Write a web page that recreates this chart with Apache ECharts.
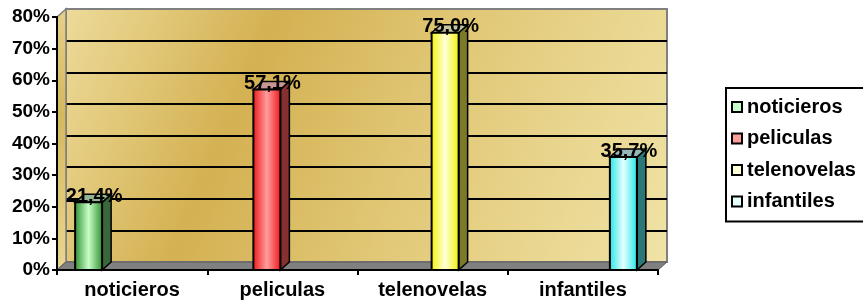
<!DOCTYPE html>
<html>
<head>
<meta charset="utf-8">
<script src="https://cdn.jsdelivr.net/npm/echarts@6/dist/echarts.min.js"></script>
<style>
html, body { margin: 0; padding: 0; background: #fff; }
#chart { width: 863px; height: 306px; }
</style>
</head>
<body>
<div id="chart"></div>
<script>
// data
const categories = ['noticieros', 'peliculas', 'telenovelas', 'infantiles'];
const values = [21.4, 57.1, 75.0, 35.7];
const yMax = 80;
const yStep = 10;

// bar looks: edge / centre of the front face, side face, top face
const frontEdge = ['#2a8a2a', '#ee1414', '#f2f200', '#1ee6e6'];
const frontMid  = ['#c8ffc8', '#ff9d9d', '#ffffd8', '#e6ffff'];
const sideCol   = ['#3a683a', '#863030', '#7a7a28', '#2c7878'];
const topCol    = ['#94b494', '#c89494', '#c4c4a0', '#94b8b8'];

const W = 863, H = 306;
const FL = 57, FR = 658, FT = 17, FB = 270;   // front frame
const DX = 9, DY = 8;                          // 3d depth
const BAR_W = 27, BAR_STEP = 28;
const font = '"Liberation Sans", Arial, sans-serif';

const chart = echarts.init(document.getElementById('chart'));

function fmt(v) {
    return v.toFixed(1).replace('.', ',') + '%';
}

function makeSeries(i) {
    return {
        name: categories[i],
        type: 'custom',
        xAxisIndex: 0,
        yAxisIndex: 0,
        z: 3,
        data: [[i, values[i]]],
        renderItem: function (params, api) {
            const cat = api.value(0);
            const val = api.value(1);
            const top = api.coord([cat, val]);
            const base = api.coord([cat, 0]);
            const band = api.size([1, 0])[0];
            const gap = (band - BAR_STEP * categories.length) / 2;
            const x0 = top[0] - band / 2 + gap + i * BAR_STEP - 1;
            const y0 = top[1];
            const y1 = base[1];
            return {
                type: 'group',
                children: [
                    {
                        type: 'polygon',
                        shape: { points: [[x0 + BAR_W, y0], [x0 + BAR_W + DX, y0 - DY], [x0 + BAR_W + DX, y1 - DY], [x0 + BAR_W, y1]] },
                        style: { fill: sideCol[i], stroke: '#000', lineWidth: 1.5 }
                    },
                    {
                        type: 'polygon',
                        shape: { points: [[x0, y0], [x0 + DX, y0 - DY], [x0 + BAR_W + DX, y0 - DY], [x0 + BAR_W, y0]] },
                        style: { fill: topCol[i], stroke: '#000', lineWidth: 1.5 }
                    },
                    {
                        type: 'rect',
                        shape: { x: x0, y: y0, width: BAR_W, height: y1 - y0 },
                        style: {
                            fill: new echarts.graphic.LinearGradient(0, 0, 1, 0, [
                                { offset: 0, color: frontEdge[i] },
                                { offset: 0.5, color: frontMid[i] },
                                { offset: 1, color: frontEdge[i] }
                            ]),
                            stroke: '#000',
                            lineWidth: 2
                        }
                    },
                    {
                        type: 'text',
                        style: {
                            x: x0 + (BAR_W + DX) / 2 + 1,
                            y: y0 - 6,
                            text: fmt(val),
                            fill: '#000',
                            font: 'bold 20px ' + font,
                            align: 'center',
                            verticalAlign: 'middle'
                        }
                    }
                ]
            };
        }
    };
}

const wallLineColors = ['#808080'];
for (let v = yStep; v < yMax; v += yStep) wallLineColors.push('#000');
wallLineColors.push('#808080');

const option = {
    backgroundColor: '#fff',
    animation: false,
    textStyle: { fontFamily: font },
    grid: [
        { left: FL, right: W - FR, top: FT, bottom: H - FB },
        {
            left: FL + DX, right: W - FR - DX, top: FT - DY, bottom: H - FB + DY,
            show: true,
            borderColor: '#808080',
            borderWidth: 2,
            backgroundColor: new echarts.graphic.LinearGradient(0, 0, 1, 1, [
                { offset: 0, color: '#eddb9a' },
                { offset: 0.3, color: '#d4b152' },
                { offset: 0.6, color: '#e2c979' },
                { offset: 1, color: '#f0e3a6' }
            ])
        }
    ],
    xAxis: [
        {
            type: 'category',
            gridIndex: 0,
            data: categories,
            z: 5,
            axisLine: { lineStyle: { color: '#000', width: 2 } },
            axisTick: { show: true, length: 5, alignWithLabel: false, lineStyle: { color: '#000', width: 2 } },
            axisLabel: { color: '#000', fontWeight: 'bold', fontSize: 20, fontFamily: font, margin: 10 },
            splitLine: { show: false }
        },
        {
            type: 'category',
            gridIndex: 1,
            data: categories,
            show: false
        }
    ],
    yAxis: [
        {
            type: 'value',
            gridIndex: 0,
            min: 0,
            max: yMax,
            interval: yStep,
            z: 5,
            axisLine: { show: true, lineStyle: { color: '#000', width: 2 } },
            axisTick: { show: true, length: 5, lineStyle: { color: '#000', width: 2 } },
            axisLabel: { color: '#000', fontWeight: 'bold', fontSize: 19, fontFamily: font, margin: 7, formatter: '{value}%' },
            splitLine: { show: false }
        },
        {
            type: 'value',
            gridIndex: 1,
            min: 0,
            max: yMax,
            interval: yStep,
            axisLine: { show: false },
            axisTick: { show: false },
            axisLabel: { show: false },
            splitLine: { show: true, lineStyle: { color: wallLineColors, width: 2 } }
        }
    ],
    graphic: [
        {
            type: 'polygon',
            z: 1,
            shape: { points: [[FL, FB], [FL, FT], [FL + DX, FT - DY], [FL + DX, FB - DY]] },
            style: {
                fill: new echarts.graphic.LinearGradient(0, 0, 0, 1, [
                    { offset: 0, color: '#e6d08a' },
                    { offset: 0.4, color: '#d6b85c' },
                    { offset: 1, color: '#e9d690' }
                ]),
                stroke: '#808080',
                lineWidth: 1.5
            }
        },
        {
            type: 'polygon',
            z: 1,
            shape: { points: [[FL, FB], [FR, FB], [FR + DX, FB - DY], [FL + DX, FB - DY]] },
            style: { fill: '#808080', stroke: '#5a5a5a', lineWidth: 1 }
        }
    ],
    legend: {
        orient: 'vertical',
        left: 726,
        top: 88,
        padding: [9, 30, 10, 5],
        borderColor: '#000',
        borderWidth: 2,
        itemWidth: 10,
        itemHeight: 10,
        itemGap: 11.5,
        textStyle: { color: '#000', fontWeight: 'bold', fontSize: 20, fontFamily: font, lineHeight: 20 },
        data: categories.map(function (c, i) {
            return {
                name: c,
                icon: 'rect',
                itemStyle: { color: frontMid[i], borderColor: '#000', borderWidth: 2 }
            };
        })
    },
    series: categories.map(function (c, i) { return makeSeries(i); })
};

chart.setOption(option);
</script>
</body>
</html>
